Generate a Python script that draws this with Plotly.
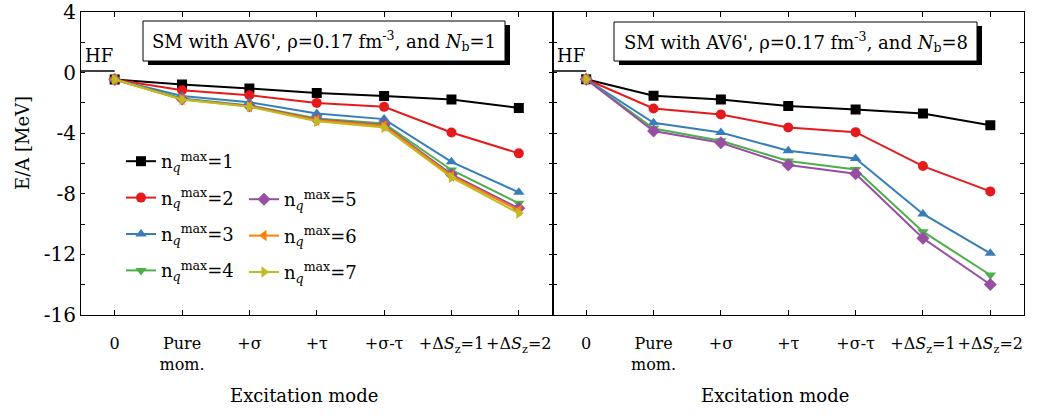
import plotly.graph_objects as go
from plotly.subplots import make_subplots

# Excitation modes on the horizontal axis
modes = ["0", "Pure<br>mom.", "+σ", "+τ", "+σ-τ",
         "+Δ<i>S</i><sub>z</sub>=1", "+Δ<i>S</i><sub>z</sub>=2"]
mode_pos = [0, 1, 2, 3, 4, 5, 6]

# Hartree-Fock reference energy (MeV)
hf_energy = 0.1

# E/A [MeV] for N_b = 1, one list per n_q^max
nb1_nq1 = [-0.45, -0.78, -1.05, -1.34, -1.54, -1.77, -2.33]
nb1_nq2 = [-0.45, -1.16, -1.49, -2.00, -2.26, -3.95, -5.33]
nb1_nq3 = [-0.45, -1.54, -1.95, -2.70, -3.07, -5.89, -7.90]
nb1_nq4 = [-0.45, -1.71, -2.17, -3.03, -3.36, -6.43, -8.63]
nb1_nq5 = [-0.45, -1.75, -2.20, -3.10, -3.45, -6.72, -8.96]
nb1_nq6 = [-0.45, -1.77, -2.23, -3.15, -3.52, -6.82, -9.10]
nb1_nq7 = [-0.45, -1.78, -2.26, -3.22, -3.62, -6.92, -9.29]

# E/A [MeV] for N_b = 8 (n_q^max = 6, 7 only at the start point)
nb8_nq1 = [-0.44, -1.53, -1.78, -2.21, -2.44, -2.70, -3.47]
nb8_nq2 = [-0.44, -2.37, -2.76, -3.62, -3.93, -6.17, -7.84]
nb8_nq3 = [-0.44, -3.31, -3.95, -5.16, -5.67, -9.33, -11.93]
nb8_nq4 = [-0.44, -3.69, -4.50, -5.84, -6.39, -10.50, -13.36]
nb8_nq5 = [-0.44, -3.86, -4.63, -6.10, -6.68, -10.94, -13.99]
nb8_nq6 = [-0.44, None, None, None, None, None, None]
nb8_nq7 = [-0.44, None, None, None, None, None, None]

nq_values = [1, 2, 3, 4, 5, 6, 7]
colors = ["#000000", "#e41a1c", "#377eb8", "#4daf4a", "#984ea3", "#ff7f00", "#bcbd22"]
symbols = ["square", "circle", "triangle-up", "triangle-down", "diamond",
           "triangle-left", "triangle-right"]

nb1_series = [nb1_nq1, nb1_nq2, nb1_nq3, nb1_nq4, nb1_nq5, nb1_nq6, nb1_nq7]
nb8_series = [nb8_nq1, nb8_nq2, nb8_nq3, nb8_nq4, nb8_nq5, nb8_nq6, nb8_nq7]

y_ticks = [4, 2, 0, -2, -4, -6, -8, -10, -12, -14, -16]
y_ticktext = ["4", "", "0", "", "-4", "", "-8", "", "-12", "", "-16"]

FONT = "DejaVu Serif"

fig = make_subplots(rows=1, cols=2, horizontal_spacing=0, shared_yaxes=False)

# HF reference segment in both panels
for col in (1, 2):
    fig.add_trace(go.Scatter(x=[-0.5, 0], y=[hf_energy, hf_energy], mode="lines",
                             line=dict(color="black", width=1.5), showlegend=False,
                             hoverinfo="skip"), row=1, col=col)

for i, nq in enumerate(nq_values):
    label = f"n<sub><i>q</i></sub><sup>max</sup>={nq}"
    marker = dict(symbol=symbols[i], size=10, color=colors[i])
    fig.add_trace(go.Scatter(x=mode_pos, y=nb1_series[i], mode="lines+markers",
                             name=label, line=dict(color=colors[i], width=2),
                             marker=marker, legendgroup=f"g{nq}",
                             legend="legend" if nq <= 4 else "legend2"),
                  row=1, col=1)
    fig.add_trace(go.Scatter(x=mode_pos, y=nb8_series[i], mode="lines+markers",
                             name=label, line=dict(color=colors[i], width=2),
                             marker=marker, showlegend=False),
                  row=1, col=2)

axis_common = dict(range=[-0.5, 6.5], tickvals=mode_pos, ticktext=modes,
                   tickangle=0, automargin=False, ticklabelstandoff=14,
                   ticks="inside", ticklen=5, tickcolor="black", mirror="ticks",
                   showline=True, linecolor="black", linewidth=1, showgrid=False,
                   zeroline=False, tickfont=dict(family=FONT, size=16, color="black"))
fig.update_xaxes(**axis_common)
yaxis_common = dict(range=[-16, 4], tickvals=y_ticks, ticks="inside", ticklen=4,
                    automargin=False,
                    tickcolor="black", mirror="ticks", showline=True, linecolor="black",
                    linewidth=1, showgrid=False, zeroline=False,
                    tickfont=dict(family=FONT, size=20, color="black"))
fig.update_yaxes(ticktext=y_ticktext, row=1, col=1, **yaxis_common)
fig.update_yaxes(ticktext=[""] * len(y_ticks), row=1, col=2, **yaxis_common)

ML, MR, MT, MB = 81, 13, 12, 100
W, H = 1037, 415
PW, PH = W - ML - MR, H - MT - MB


def px(x):
    return (x - ML) / PW


def py(y):
    return (H - MB - y) / PH


shapes = []
annotations = []
boxes = [
    (143, 505, 21, 61, "SM with AV6', ρ=0.17 fm<sup>-3</sup>, and <i>N</i><sub>b</sub>=1"),
    (614, 977, 22, 61, "SM with AV6', ρ=0.17 fm<sup>-3</sup>, and <i>N</i><sub>b</sub>=8"),
]
for x0, x1, y0, y1, text in boxes:
    shapes.append(dict(type="rect", xref="paper", yref="paper",
                       x0=px(x0 + 5), x1=px(x1 + 5), y0=py(y1 + 4), y1=py(y0 + 4),
                       fillcolor="black", line=dict(width=0), layer="above"))
    shapes.append(dict(type="rect", xref="paper", yref="paper",
                       x0=px(x0), x1=px(x1), y0=py(y1), y1=py(y0),
                       fillcolor="white", line=dict(color="black", width=1), layer="above"))
    annotations.append(dict(xref="paper", yref="paper", x=px((x0 + x1) / 2),
                            y=py((y0 + y1) / 2), text=text, showarrow=False,
                            xanchor="center", yanchor="middle",
                            font=dict(family=FONT, size=18, color="black")))

for xr, yr in (("x", "y"), ("x2", "y2")):
    annotations.append(dict(xref=xr, yref=yr, x=-0.23, y=hf_energy, text="HF",
                            showarrow=False, xanchor="center", yanchor="bottom",
                            yshift=3, font=dict(family=FONT, size=18, color="black")))

for cx in (304, 775):
    annotations.append(dict(xref="paper", yref="paper", x=px(cx), y=py(395),
                            text="Excitation mode", showarrow=False,
                            xanchor="center", yanchor="middle",
                            font=dict(family=FONT, size=18, color="black")))

annotations.append(dict(xref="paper", yref="paper", x=px(22), y=py(143),
                        text="E/A [MeV]", textangle=-90, showarrow=False,
                        xanchor="center", yanchor="middle",
                        font=dict(family=FONT, size=18, color="black")))

legend_style = dict(bgcolor="rgba(0,0,0,0)", borderwidth=0, tracegroupgap=10,
                    font=dict(family=FONT, size=18, color="black"),
                    xanchor="left", yanchor="top", itemwidth=30)

fig.update_layout(
    width=W, height=H,
    font=dict(family=FONT, color="black"),
    margin=dict(l=ML, r=MR, t=MT, b=MB, autoexpand=False),
    paper_bgcolor="white", plot_bgcolor="white",
    shapes=shapes, annotations=annotations,
    legend=dict(x=px(121), y=py(143), **legend_style),
    legend2=dict(x=px(244), y=py(181), **legend_style),
)

fig.write_html("out.html")
